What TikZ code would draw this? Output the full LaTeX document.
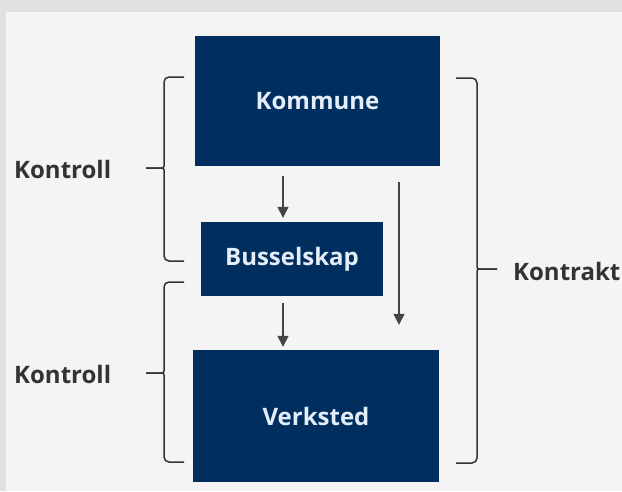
\documentclass[tikz,border=0pt]{standalone}
\usepackage{fontspec}
\setmainfont{Open Sans}
\usetikzlibrary{arrows.meta}
\definecolor{outerbg}{HTML}{E0E0E0}
\definecolor{panelbg}{HTML}{F4F4F4}
\definecolor{boxblue}{HTML}{002F5F}
\definecolor{boxtext}{HTML}{E4EDF8}
\definecolor{labeltext}{HTML}{333333}
\definecolor{arrowgray}{HTML}{444444}
\begin{document}
\begin{tikzpicture}[x=1pt,y=-1pt,
  box/.style={fill=boxblue, draw=none, text=boxtext, font=\fontsize{24}{28}\selectfont\bfseries, inner sep=0pt, anchor=center},
  lbl/.style={text=labeltext, font=\fontsize{24}{28}\selectfont\bfseries, inner sep=0pt},
  arr/.style={draw=arrowgray, line width=1.5pt, -{Triangle[width=11pt,length=11pt]}},
  brace/.style={draw=labeltext, line width=1.5pt}
]
\useasboundingbox (0,0) rectangle (622,491);
\fill[outerbg] (0,0) rectangle (622,491);
\fill[panelbg] (6,12) rectangle (622,491);

\node[box, minimum width=245pt, minimum height=130pt] (kommune) at (317.5,101) {Kommune};
\node[box, minimum width=182pt, minimum height=74pt] (bussel) at (292,259) {Busselskap};
\node[box, minimum width=246pt, minimum height=132pt] (verksted) at (316,416) {Verksted};

\node[lbl, anchor=west] (kontroll1) at (14,169) {Kontroll};
\node[lbl, anchor=west] (kontroll2) at (14,374) {Kontroll};
\node[lbl, anchor=west] (kontrakt) at (513,271) {Kontrakt};

% arrows
\draw[arr] ([xshift=-34.5pt,yshift=-10pt]kommune.south) -- ([xshift=-9pt,yshift=4pt]bussel.north);
\draw[arr] ([xshift=-9pt,yshift=-7pt]bussel.south) -- ([xshift=-33pt,yshift=3pt]verksted.north);
\draw[arr] ([xshift=81.5pt,yshift=-16pt]kommune.south) -- ([xshift=83pt,yshift=25pt]verksted.north);

% left brace 1
\draw[brace] (184,77) [rounded corners=5pt] -- (164,77) [rounded corners=2pt] -- (164,168) [sharp corners] -- (146,168);
\draw[brace] (146,168) [rounded corners=2pt] -- (164,168) [rounded corners=5pt] -- (164,261) -- (184,261);
% left brace 2
\draw[brace] (184,282) [rounded corners=5pt] -- (164,282) [rounded corners=2pt] -- (164,373) [sharp corners] -- (146,373);
\draw[brace] (146,373) [rounded corners=2pt] -- (164,373) [rounded corners=5pt] -- (164,462) -- (184,462);
% right brace
\draw[brace] (456,78) [rounded corners=5pt] -- (477,78) [rounded corners=2pt] -- (477,269) [sharp corners] -- (497,269);
\draw[brace] (497,269) [rounded corners=2pt] -- (477,269) [rounded corners=5pt] -- (477,463) -- (456,463);
\end{tikzpicture}
\end{document}
